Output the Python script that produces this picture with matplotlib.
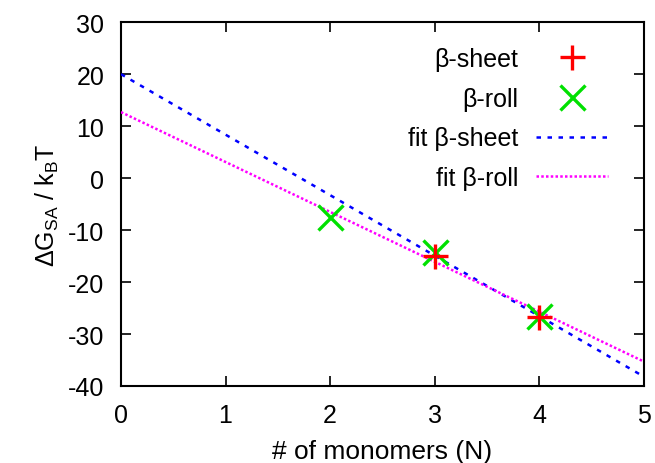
import matplotlib
matplotlib.use("Agg")
import matplotlib.pyplot as plt
import numpy as np

plt.rcParams['font.family'] = ['Liberation Sans', 'DejaVu Sans']
plt.rcParams['mathtext.default'] = 'regular'
plt.rcParams['axes.unicode_minus'] = False

# data
sheet_n = [3, 4]
sheet_g = [-15.0, -26.8]
roll_n = [2, 3, 4]
roll_g = [-7.5, -14.2, -26.6]

# fitted lines (intercept, slope)
fit_sheet = (20.0, -11.64)
fit_roll = (12.7, -9.6)
fit_x = [0, 5]

###############base setting################
fig = plt.figure(figsize=(6.55, 4.64), dpi=100)
ax = fig.add_axes([0.1847, 0.166, 0.7983, 0.784])

###############draw points and lines################
ax.plot(sheet_n, sheet_g, linestyle='none', marker='+', color='red',
        markersize=18, markeredgewidth=2.4, label=u'β-sheet', zorder=5)
ax.plot(roll_n, roll_g, linestyle='none', marker='x', color='#00e000',
        markersize=18, markeredgewidth=2.4, label=u'β-roll', zorder=4)
xs = np.array(fit_x, dtype=float)
ax.plot(xs, fit_sheet[0] + fit_sheet[1] * xs, color='blue', linewidth=1.8,
        dashes=(1.8, 2.6), label=u'fit β-sheet', zorder=3)
ax.plot(xs, fit_roll[0] + fit_roll[1] * xs, color='magenta', linewidth=1.8,
        dashes=(1.0, 0.9), label=u'fit β-roll', zorder=3)

ax.legend(loc='upper right', bbox_to_anchor=(0.965, 0.98), frameon=False,
          markerfirst=False, fontsize=18, handlelength=2.9,
          labelspacing=0.63, handletextpad=0.7, borderaxespad=0.3)

##############axis setting###############
ax.set_xlim(0, 5)
ax.set_ylim(-40, 30)
ax.set_xticks(range(0, 6))
ax.set_yticks(range(-40, 31, 10))
ax.tick_params(direction='in', length=7, width=1.2, labelsize=18,
               top=True, right=True, pad=12)
for s in ax.spines.values():
    s.set_linewidth(1.5)
ax.set_xlabel('# of monomers (N)', fontsize=19, labelpad=9)
ax.set_ylabel(r'$\Delta$G$_{SA}$ / k$_{B}$T', fontsize=18, labelpad=5)

plt.savefig('out.png', dpi=100)
